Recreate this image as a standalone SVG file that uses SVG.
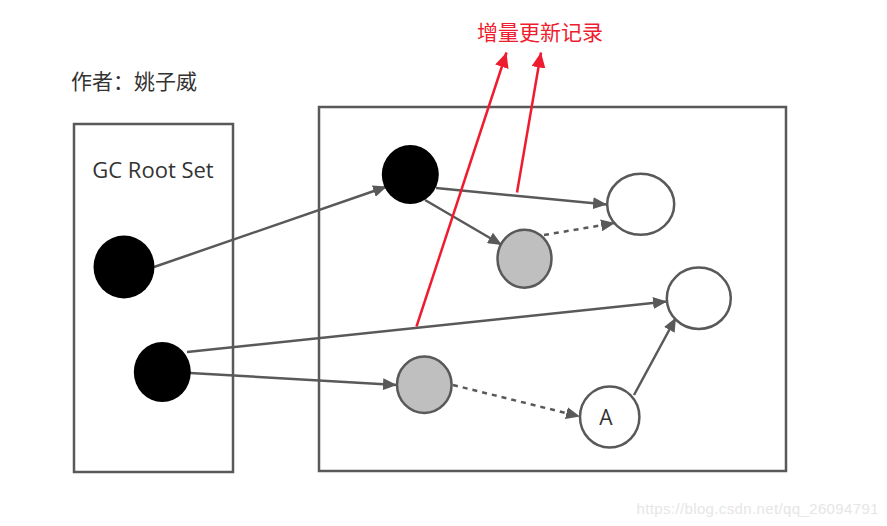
<svg xmlns="http://www.w3.org/2000/svg" width="887" height="526" viewBox="0 0 887 526">
<style>
.box{fill:none;stroke:#595959;stroke-width:2.5}
.blk{fill:#000}
.gray{fill:#bfbfbf;stroke:#595959;stroke-width:2.5}
.wht{fill:#fff;stroke:#595959;stroke-width:2.5}
.ln{fill:none;stroke:#595959;stroke-width:2.5}
.dash{stroke-dasharray:5 5}
.red{fill:none;stroke:#ee1c2e;stroke-width:2.5}
.t{font-family:"Open Sans","Noto Sans","Noto Sans CJK SC",sans-serif;fill:#333}
</style>
<defs>
<marker id="ah" markerUnits="userSpaceOnUse" markerWidth="16" markerHeight="12" refX="14" refY="6" orient="auto">
<path d="M0,0 L14,6 L0,12 Z" fill="#595959"/>
</marker>
<marker id="ar" markerUnits="userSpaceOnUse" markerWidth="16" markerHeight="14" refX="15" refY="7" orient="auto">
<path d="M0,0 L15,7 L0,14 Z" fill="#ee1c2e"/>
</marker>
</defs>
<rect width="887" height="526" fill="#fff"/>
<text class="t" x="71" y="89" font-size="21">作者：姚子威</text>
<text x="540" y="40" font-size="21" text-anchor="middle" font-family="'Noto Sans CJK SC',sans-serif" fill="#ee1c2e">增量更新记录</text>
<g id="rootset">
<rect class="box" x="74" y="124" width="159" height="348"/>
<text class="t" x="153" y="178" font-size="22" text-anchor="middle">GC Root Set</text>
</g>
<g id="heap"><rect class="box" x="319" y="107" width="467" height="364"/></g>
<g id="connectors">
<line class="ln" x1="154" y1="267" x2="387" y2="186.5" marker-end="url(#ah)"/>
<line class="ln" x1="436" y1="188" x2="607" y2="204.5" marker-end="url(#ah)"/>
<line class="ln" x1="425" y1="200" x2="502" y2="245" marker-end="url(#ah)"/>
<line class="ln dash" x1="544" y1="235" x2="615" y2="223" marker-end="url(#ah)"/>
<line class="ln" x1="187" y1="352" x2="667" y2="301.5" marker-end="url(#ah)"/>
<line class="ln" x1="190" y1="373" x2="397" y2="385" marker-end="url(#ah)"/>
<line class="ln dash" x1="453" y1="385" x2="580" y2="416.5" marker-end="url(#ah)"/>
<line class="ln" x1="634" y1="395" x2="676" y2="317.5" marker-end="url(#ah)"/>
<line class="red" x1="416.5" y1="326.5" x2="506.5" y2="52.5" marker-end="url(#ar)"/>
<line class="red" x1="517" y1="192.5" x2="541" y2="52.5" marker-end="url(#ar)"/>
</g>
<g id="root1"><ellipse class="blk" cx="124" cy="267" rx="30.5" ry="31.5"/></g>
<g id="root2"><ellipse class="blk" cx="162.3" cy="372" rx="28.5" ry="30"/></g>
<g id="obj_black"><ellipse class="blk" cx="410.3" cy="174.5" rx="28.5" ry="29.5"/></g>
<g id="obj_gray1"><ellipse class="gray" cx="524.5" cy="258.7" rx="27" ry="29"/></g>
<g id="obj_white1"><ellipse class="wht" cx="640.7" cy="204.3" rx="33.5" ry="30.5"/></g>
<g id="obj_white2"><ellipse class="wht" cx="698.8" cy="298.3" rx="32" ry="30.7"/></g>
<g id="obj_gray2"><ellipse class="gray" cx="424.3" cy="384.8" rx="27.3" ry="28.2"/></g>
<g id="obj_A"><ellipse class="wht" cx="609.7" cy="417" rx="29.7" ry="30.5"/>
<text class="t" x="606" y="425" font-size="21" text-anchor="middle">A</text></g>
<text x="636.5" y="514" font-size="15" font-family="'Liberation Sans',Arial,sans-serif" fill="#e6e6e6" textLength="242">https://blog.csdn.net/qq_26094791</text>
</svg>
